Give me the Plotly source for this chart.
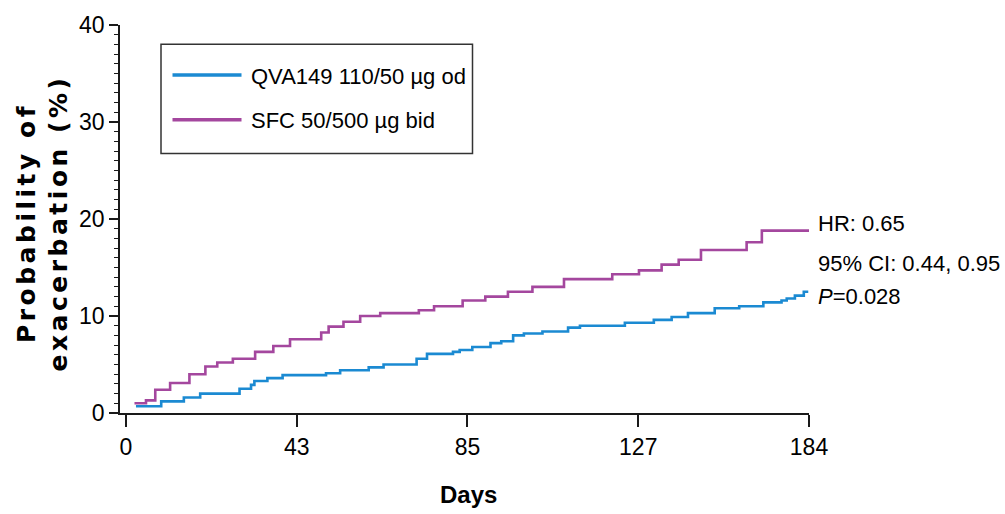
import plotly.graph_objects as go

# Kaplan-Meier style cumulative exacerbation probability (%)
qva_days = [2.7, 9.5, 15.6, 20.0, 30.6, 33.7, 34.6, 38.1, 42.2, 53.9, 57.7, 65.4, 69.4,
            78.3, 81.1, 88.1, 89.9, 93.3, 98.2, 101.1, 104.3, 107.2, 112.2, 119.1, 122.3,
            134.4, 142.2, 147.0, 151.4, 158.6, 165.2, 171.7, 176.6, 178.0, 180.2, 182.6, 183.8]
qva_prob = [0.7, 1.2, 1.6, 2.0, 2.5, 2.9, 3.3, 3.6, 3.9, 4.1, 4.4, 4.7, 5.0,
            5.6, 6.1, 6.3, 6.5, 6.8, 7.2, 7.4, 8.0, 8.2, 8.4, 8.8, 9.0,
            9.3, 9.6, 9.9, 10.3, 10.8, 11.0, 11.4, 11.6, 11.8, 12.1, 12.5, 12.5]

sfc_days = [2.3, 5.4, 7.9, 11.9, 17.1, 21.4, 24.6, 28.8, 34.8, 39.7, 44.2, 52.6, 54.6,
            58.6, 63.1, 68.5, 78.9, 83.0, 90.7, 96.8, 102.9, 109.5, 118.0, 131.0, 138.2,
            144.3, 148.9, 154.9, 167.2, 171.3, 184.0]
sfc_prob = [1.0, 1.3, 2.4, 3.1, 4.0, 4.8, 5.2, 5.6, 6.3, 6.9, 7.6, 8.3, 8.9,
            9.4, 10.0, 10.3, 10.6, 11.0, 11.6, 12.0, 12.5, 13.0, 13.8, 14.3, 14.7,
            15.3, 15.8, 16.8, 17.6, 18.8, 18.8]

series_names = ["QVA149 110/50 µg od", "SFC 50/500 µg bid"]
series_colors = ["#1b8ad2", "#a4479e"]

# x axis ticks are evenly spaced on the axis
tick_positions = [0, 46, 92, 138, 184]
tick_labels = ["0", "43", "85", "127", "184"]

stats_lines = ["HR: 0.65", "95% CI: 0.44, 0.95", "<i>P</i>=0.028"]

W, H = 1005, 514
ML, MR, MT, MB = 120, 196, 22, 101
PW, PH = W - ML - MR, H - MT - MB


def px_x(x):
    return (x - ML) / PW


def px_y(y):
    return (H - MB - y) / PH


SANS = "Liberation Sans, Arial, sans-serif"
INK = "#1a1a1a"

fig = go.Figure()
for xs, ys, name, color in [(qva_days, qva_prob, series_names[0], series_colors[0]),
                            (sfc_days, sfc_prob, series_names[1], series_colors[1])]:
    fig.add_trace(go.Scatter(x=xs, y=ys, mode="lines", name=name,
                             line=dict(color=color, width=2.6, shape="hv"),
                             showlegend=False))

# Legend box drawn as layout shapes and text
shapes = [dict(type="rect", xref="paper", yref="paper",
               x0=px_x(161), x1=px_x(472.5), y0=px_y(151.5), y1=px_y(41.5),
               line=dict(color="#333333", width=1.5), fillcolor="white", layer="above")]
annotations = []
for i, (name, color) in enumerate(zip(series_names, series_colors)):
    yy = [72.5, 117.5][i]
    shapes.append(dict(type="line", xref="paper", yref="paper",
                       x0=px_x(172.5), x1=px_x(241.5), y0=px_y(yy), y1=px_y(yy),
                       line=dict(color=color, width=3.5), layer="above"))
    annotations.append(dict(text=name, xref="paper", yref="paper", x=px_x(249), y=px_y(yy + 1),
                            xanchor="left", yanchor="middle", showarrow=False,
                            font=dict(family=SANS, size=22, color="#000")))

for text, yy in zip(stats_lines, [222.5, 262, 295.5]):
    annotations.append(dict(text=text, xref="paper", yref="paper", x=px_x(816), y=px_y(yy),
                            xanchor="left", yanchor="middle", showarrow=False,
                            font=dict(family=SANS, size=22, color="#000")))

annotations.append(dict(text="<b><span style='letter-spacing:3.5px'>Probability of</span><br>"
                             "<span style='letter-spacing:3.5px'>exacerbation (%)</span></b>",
                        textangle=-90,
                        xref="paper", yref="paper", x=px_x(43), y=px_y(222),
                        xanchor="center", yanchor="middle", showarrow=False,
                        font=dict(family="DejaVu Sans, sans-serif", size=25, color="#000")))
annotations.append(dict(text="<b>Days</b>", xref="paper", yref="paper",
                        x=px_x(468), y=px_y(495), xanchor="center", yanchor="middle",
                        showarrow=False, font=dict(family=SANS, size=24, color="#000")))

fig.update_layout(
    width=W, height=H,
    margin=dict(l=ML, r=MR, t=MT, b=MB, pad=0),
    paper_bgcolor="white", plot_bgcolor="white",
    shapes=shapes, annotations=annotations,
    xaxis=dict(range=[-1.6, 184], tickmode="array", tickvals=tick_positions, ticktext=tick_labels,
               showgrid=False, zeroline=False, showline=True, linecolor=INK, linewidth=2,
               ticks="outside", ticklen=12, tickwidth=1.5, tickcolor=INK,
               tickfont=dict(family=SANS, size=23, color="#000"), fixedrange=True),
    yaxis=dict(range=[0, 40], tickvals=[0, 10, 20, 30, 40],
               showgrid=False, zeroline=False, showline=True, linecolor=INK, linewidth=1.5,
               ticks="outside", ticklen=9, tickwidth=1.5, tickcolor=INK,
               minor=dict(dtick=1, ticks="outside", ticklen=4, tickwidth=1.2, tickcolor=INK),
               tickfont=dict(family=SANS, size=23, color="#000"), fixedrange=True),
)

fig.write_html("out.html")
